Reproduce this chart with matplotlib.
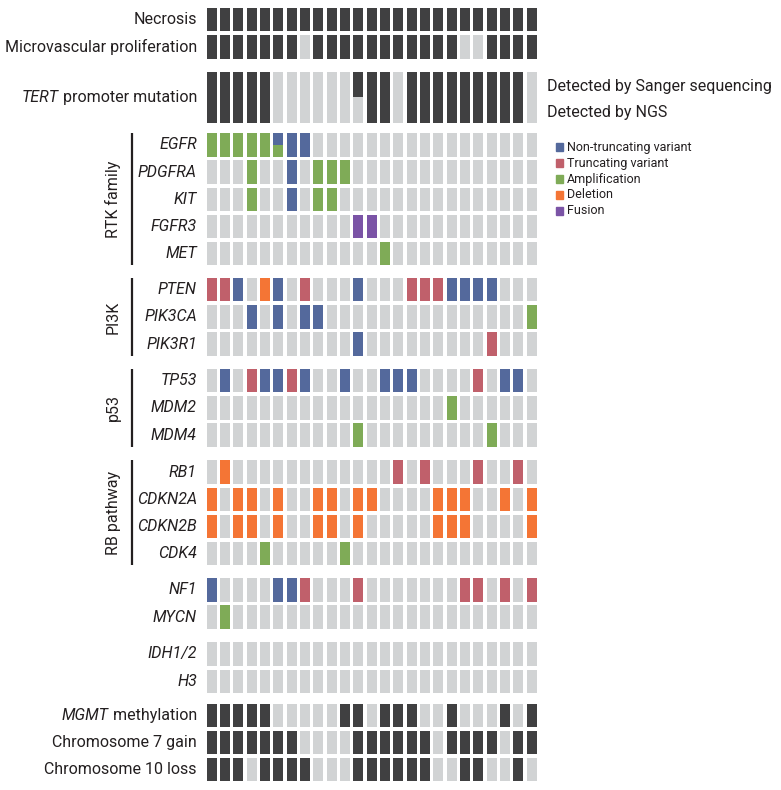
import matplotlib
matplotlib.use("Agg")
import matplotlib.pyplot as plt
from matplotlib.patches import Rectangle
from matplotlib import font_manager

# 25 samples, one character per sample
# binary rows: 1 = present, 0 = absent
necrosis = "1111111111111111111111111"
microvascular = "1111111011111111111001111"
tert_sanger = "1111100000011101111111110"
tert_ngs = "1111100000001101111111110"
mgmt = "1111100000110111001000101"
chr7_gain = "1111111000011111101111011"
chr10_loss = "1110111100011111100110010"

# gene rows: . none, N non-truncating, T truncating, A amplification, D deletion, F fusion
egfr = "AAAAANNN................."
pdgfra = "...A..N.AAA.............."
kit = "...A..N.AA..............."
fgfr3 = "...........FF............"
met = ".............A..........."
pten = "TTN.DN.T...N...TTTNNNN..."
pik3ca = "...N.N.NN...............A"
pik3r1 = "...........N.........T..."
tp53 = ".N.TNNTN..N..NNN....T.NN."
mdm2 = "..................A......"
mdm4 = "...........A.........A..."
rb1 = ".D............T.T...T..T."
cdkn2a = "D.DD.D..DD.DD....DDD..D.D"
cdkn2b = "D.DD.D..DD.D.....DDD....D"
cdk4 = "....A.....A.............."
nf1 = "N....NNT...T.......TT.T.T"
mycn = ".A......................."
idh = "........................."
h3 = "........................."
# cells with two alterations (top half, bottom half)
egfr_double = {5: ("N", "A")}

alt_labels = ["Non-truncating variant", "Truncating variant", "Amplification",
              "Deletion", "Fusion"]
alt_codes = ["N", "T", "A", "D", "F"]

DARK = "#404041"
LIGHT = "#d1d3d4"
TEXT = "#231f20"
alt_colors = {"N": "#54699c", "T": "#c0606b", "A": "#7fab57",
              "D": "#f47535", "F": "#7b54a6", ".": LIGHT}

names = {f.name for f in font_manager.fontManager.ttflist}
family = "Liberation Sans Narrow" if "Liberation Sans Narrow" in names else "Roboto"
plt.rcParams["font.family"] = [family, "DejaVu Sans"]

# rows grouped: (group name or None, gap before, [(label, kind, data, height)])
groups = [
    (None, 0.0, [("Necrosis", "bin", necrosis, 1), ("Microvascular proliferation", "bin", microvascular, 1)]),
    (None, 0.35, [("TERT| promoter mutation", "tert", None, 2)]),
    ("RTK family", 0.25, [("EGFR", "gene", egfr, 1), ("PDGFRA", "gene", pdgfra, 1), ("KIT", "gene", kit, 1),
                          ("FGFR3", "gene", fgfr3, 1), ("MET", "gene", met, 1)]),
    ("PI3K", 0.33, [("PTEN", "gene", pten, 1), ("PIK3CA", "gene", pik3ca, 1), ("PIK3R1", "gene", pik3r1, 1)]),
    ("p53", 0.34, [("TP53", "gene", tp53, 1), ("MDM2", "gene", mdm2, 1), ("MDM4", "gene", mdm4, 1)]),
    ("RB pathway", 0.36, [("RB1", "gene", rb1, 1), ("CDKN2A", "gene", cdkn2a, 1), ("CDKN2B", "gene", cdkn2b, 1),
                          ("CDK4", "gene", cdk4, 1)]),
    (None, 0.33, [("NF1", "gene", nf1, 1), ("MYCN", "gene", mycn, 1)]),
    (None, 0.36, [("IDH1/2", "gene", idh, 1), ("H3", "gene", h3, 1)]),
    (None, 0.25, [("MGMT| methylation", "bin", mgmt, 1), ("Chromosome 7 gain", "bin", chr7_gain, 1),
                  ("Chromosome 10 loss", "bin", chr10_loss, 1)]),
]

W, H = 781, 790
col_px, row_px = 13.33, 27.2
x0_px, y0_px = 206.7, 8
cell_w, cell_h = 0.75, 0.86
n = len(necrosis)
xmax = n - 1 + cell_w
ytot = sum(g[1] + sum(r[3] for r in g[2]) for g in groups) - (1 - cell_h)

fig = plt.figure(figsize=(W / 100, H / 100), dpi=100)
ax = fig.add_axes([x0_px / W, 1 - (y0_px + ytot * row_px) / H, xmax * col_px / W, ytot * row_px / H])
ax.set_xlim(0, xmax)
ax.set_ylim(ytot, 0)
ax.axis("off")
xs = list(range(n))
fs = 11.5


def draw_label(y, label):
    if "|" in label:
        ital, rest = label.split("|")
        t = ax.text(-0.73, y, rest, ha="right", va="center", fontsize=fs, color=TEXT)
        ax.annotate(ital, xy=(0, 0), xycoords=t, ha="right", va="bottom",
                    fontsize=fs, style="italic", color=TEXT)
    elif label.startswith(("Necrosis", "Micro", "Chrom")):
        ax.text(-0.73, y, label, ha="right", va="center", fontsize=fs, color=TEXT)
    else:
        ax.text(-0.73, y, label, ha="right", va="center", fontsize=fs, color=TEXT, style="italic")


y = 0.0
tert_rows = None
for gname, gap, rows in groups:
    y += gap
    gtop = y
    for label, kind, data, height in rows:
        h = height - (1 - cell_h)
        if kind == "bin":
            cols = [DARK if c == "1" else LIGHT for c in data]
            ax.bar(xs, h, bottom=y, width=cell_w, align="edge", color=cols)
        elif kind == "tert":
            ax.bar(xs, h / 2, bottom=y, width=cell_w, align="edge",
                   color=[DARK if c == "1" else LIGHT for c in tert_sanger])
            ax.bar(xs, h / 2, bottom=y + h / 2, width=cell_w, align="edge",
                   color=[DARK if c == "1" else LIGHT for c in tert_ngs])
            tert_rows = (y, h)
        else:
            ax.bar(xs, h, bottom=y, width=cell_w, align="edge", color=[alt_colors[c] for c in data])
            if label == "EGFR":
                for i, (top, bot) in egfr_double.items():
                    ax.bar(i, h / 2, bottom=y, width=cell_w, align="edge", color=alt_colors[top])
                    ax.bar(i, h / 2, bottom=y + h / 2, width=cell_w, align="edge", color=alt_colors[bot])
        draw_label(y + h / 2, label)
        y += height
    gbot = y - (1 - cell_h)
    if gname:
        ax.plot([-5.63, -5.63], [gtop, gbot], color=TEXT, lw=1.6, clip_on=False,
                solid_capstyle="butt")
        ax.text(-7.0, (gtop + gbot) / 2, gname, rotation=90, ha="center", va="center",
                fontsize=fs, color=TEXT)

# TERT detection method labels
ty, th = tert_rows
ax.text(xmax + 0.8, ty + th * 0.28, "Detected by Sanger sequencing", ha="left", va="center",
        fontsize=fs, color=TEXT, clip_on=False)
ax.text(xmax + 0.8, ty + th * 0.8, "Detected by NGS", ha="left", va="center",
        fontsize=fs, color=TEXT, clip_on=False)

# alteration legend
for k, (code, lab) in enumerate(zip(alt_codes, alt_labels)):
    cy = 147 + k * 16
    fig.patches.append(Rectangle((556 / W, 1 - (cy + 3.5) / H), 7 / W, 7 / H,
                                 transform=fig.transFigure, color=alt_colors[code]))
    fig.text(567 / W, 1 - cy / H, lab, ha="left", va="center", fontsize=9, color=TEXT)

fig.savefig("out.png", dpi=100)
